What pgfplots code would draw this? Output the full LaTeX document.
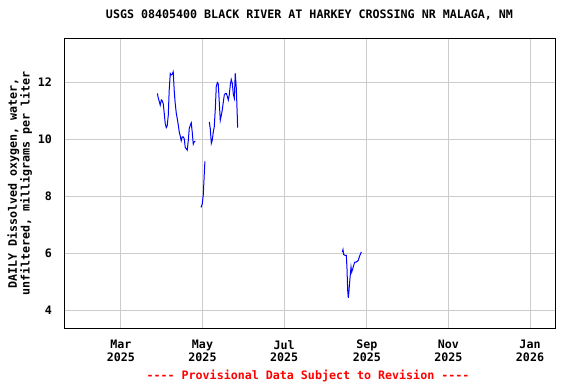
\documentclass[border=0pt]{standalone}
\usepackage{fontspec}
\setmonofont{DejaVu Sans Mono}
\usepackage{pgfplots}
\pgfplotsset{compat=1.18}
\definecolor{gridgray}{RGB}{204,204,204}
\definecolor{usgsblue}{RGB}{0,0,255}
\definecolor{usgsred}{RGB}{255,0,0}
\newcommand{\usgsfont}{\fontsize{11.7}{12.6}\selectfont\ttfamily\bfseries}
\pgfplotsset{usgsline/.style={draw=usgsblue, line width=1bp, mark=none}}
\begin{document}
\begin{tikzpicture}[x=1bp,y=1bp]
\useasboundingbox (0,0) rectangle (576,384);
\begin{axis}[
  at={(64bp,56bp)}, anchor=south west,
  width=491bp, height=289bp, scale only axis,
  xmin=16.4, xmax=383.7, ymin=3.37, ymax=13.51,
  xtick={59,120,181,243,304,365},
  xticklabels={{Mar\\2025},{May\\2025},{Jul\\2025},{Sep\\2025},{Nov\\2025},{Jan\\2026}},
  xticklabel style={font=\usgsfont, align=center, inner sep=0pt, yshift=-12bp},
  ytick={4,6,8,10,12},
  yticklabels={4,6,8,10,12},
  yticklabel style={font=\usgsfont, inner sep=0pt, xshift=-12bp},
  major tick length=0pt,
  grid=major,
  grid style={draw=gridgray, line width=1bp},
  axis line style={line width=1bp},
  title={USGS 08405400 BLACK RIVER AT HARKEY CROSSING NR MALAGA, NM},
  title style={font=\usgsfont, at={(axis description cs:0.5,1.0519)}, anchor=base, inner sep=0pt},
  ylabel={DAILY Dissolved oxygen, water,\\unfiltered, milligrams per liter},
  ylabel style={font=\usgsfont, align=center, at={(axis description cs:-0.0902,0.5)}, anchor=center, inner sep=0pt},
]
\addplot[usgsline] coordinates {
(86.2,11.60) (87.0,11.43) (87.7,11.31) (88.4,11.19) (89.2,11.37) (89.9,11.34)
(90.6,11.25) (91.4,10.90) (92.1,10.55) (92.9,10.40) (93.6,10.46) (94.4,10.84)
(95.1,11.72) (95.9,12.30) (96.6,12.25) (97.4,12.28) (98.1,12.36) (98.9,11.66)
(99.6,11.25) (100.4,10.90) (101.1,10.72) (101.9,10.49) (102.6,10.25) (103.4,10.10)
(104.1,9.94) (104.9,10.08) (105.6,10.08) (106.4,10.00) (107.1,9.70) (107.9,9.66)
(108.6,9.61) (109.4,9.96) (110.1,10.37) (110.9,10.49) (111.6,10.57) (112.3,10.25)
(113.1,9.82) (113.8,9.90) (114.6,9.93)
};
\addplot[usgsline] coordinates {
(118.9,7.60) (119.8,7.72) (120.6,8.05) (121.3,8.75) (121.8,9.22)
};
\addplot[usgsline] coordinates {
(125.1,10.60) (125.8,10.37) (126.6,9.85) (127.3,9.96) (128.1,10.25) (128.8,10.43)
(129.6,11.07) (130.3,11.84) (131.1,11.98) (131.8,11.93) (132.6,11.25) (133.3,10.66)
(134.1,10.84) (134.8,11.02) (135.6,11.31) (136.3,11.54) (137.1,11.60) (137.8,11.60)
(138.5,11.51) (139.3,11.37) (140.0,11.54) (140.8,11.90) (141.5,12.09) (142.3,11.95)
(143.0,11.60) (143.8,11.43) (144.5,12.30) (145.3,11.78) (146.0,10.84) (146.3,10.40)
};
\addplot[usgsline] coordinates {
(224.6,6.04) (225.1,6.12) (225.6,5.95) (226.6,5.92) (227.6,5.92) (228.1,5.45)
(228.6,4.69) (229.1,4.43) (229.6,4.69) (230.3,5.10) (231.1,5.51) (231.6,5.33)
(232.4,5.45) (233.1,5.57) (233.9,5.68) (234.8,5.68) (235.8,5.71) (236.5,5.74)
(237.3,5.86) (238.0,5.95) (238.8,6.04)
};
\end{axis}
\node[font=\usgsfont, text=usgsred, anchor=base, inner sep=0pt] at (308,5) {---- Provisional Data Subject to Revision ----};
\end{tikzpicture}
\end{document}
